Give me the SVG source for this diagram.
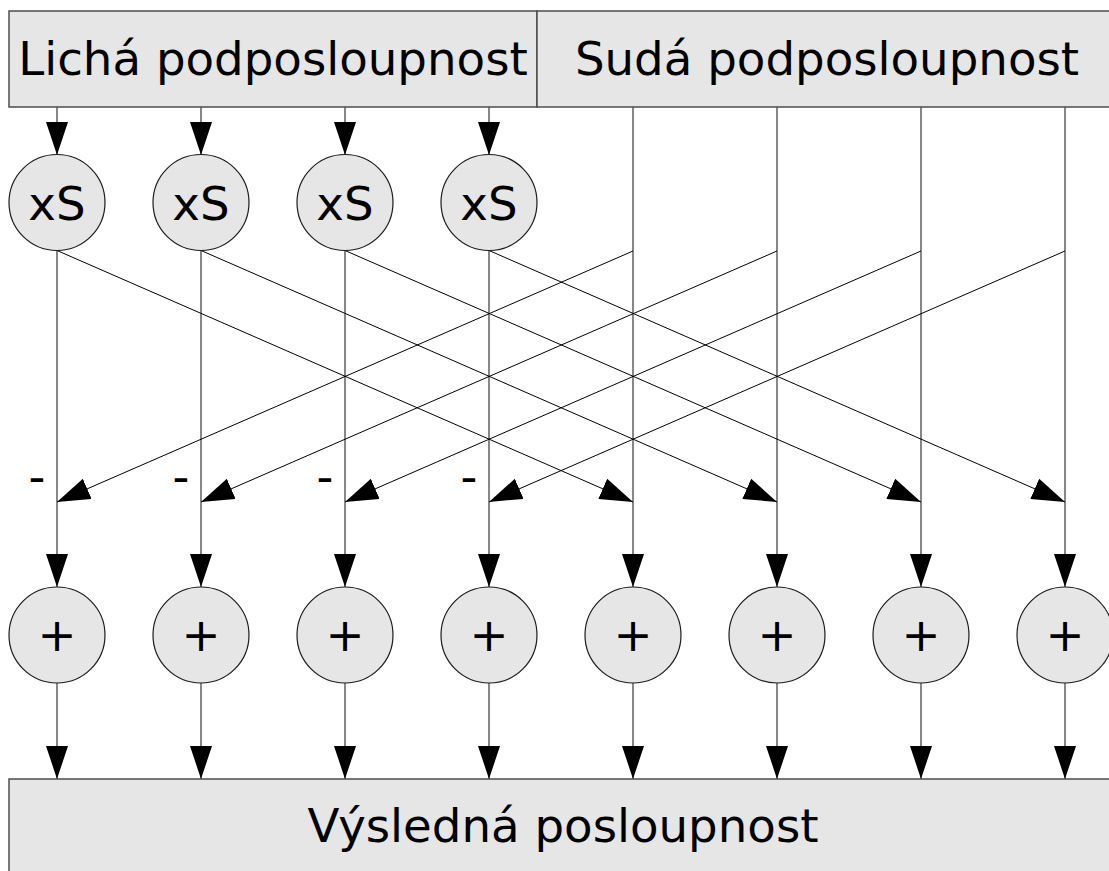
<svg xmlns="http://www.w3.org/2000/svg" width="1109" height="871" viewBox="0 0 1109 871">
<style>
.box{fill:#e6e6e6;stroke:#4d4d4d;stroke-width:1.5}
.node{fill:#e6e6e6;stroke:#1a1a1a;stroke-width:1.2}
.lbl{font-family:"DejaVu Sans",sans-serif;font-size:46.7px;fill:#000;text-anchor:middle}
.v{stroke:#555;stroke-width:1.4;fill:none}
.d{stroke:#000;stroke-width:1;fill:none}
</style>
<defs>
<marker id="ah" markerUnits="userSpaceOnUse" markerWidth="34" markerHeight="24" refX="33" refY="11" orient="auto" viewBox="0 0 34 24">
<path d="M0,0 L33,11 L0,22 Z" fill="#000"/>
</marker>
</defs>
<g id="odd-box"><rect class="box" x="9" y="11" width="528" height="96"/><text class="lbl" x="273" y="75">Lichá podposloupnost</text></g>
<g id="even-box"><rect class="box" x="537" y="11" width="580" height="96"/><text class="lbl" x="827" y="75">Sudá podposloupnost</text></g>
<g id="connectors">
<line class="v" x1="57" y1="107" x2="57" y2="155" marker-end="url(#ah)"/>
<line class="v" x1="201" y1="107" x2="201" y2="155" marker-end="url(#ah)"/>
<line class="v" x1="345" y1="107" x2="345" y2="155" marker-end="url(#ah)"/>
<line class="v" x1="489" y1="107" x2="489" y2="155" marker-end="url(#ah)"/>
<line class="v" x1="57" y1="250" x2="57" y2="587" marker-end="url(#ah)"/>
<line class="v" x1="201" y1="250" x2="201" y2="587" marker-end="url(#ah)"/>
<line class="v" x1="345" y1="250" x2="345" y2="587" marker-end="url(#ah)"/>
<line class="v" x1="489" y1="250" x2="489" y2="587" marker-end="url(#ah)"/>
<line class="v" x1="633" y1="107" x2="633" y2="587" marker-end="url(#ah)"/>
<line class="v" x1="777" y1="107" x2="777" y2="587" marker-end="url(#ah)"/>
<line class="v" x1="921" y1="107" x2="921" y2="587" marker-end="url(#ah)"/>
<line class="v" x1="1065" y1="107" x2="1065" y2="587" marker-end="url(#ah)"/>
<line class="d" x1="57" y1="250.5" x2="633" y2="502" marker-end="url(#ah)"/>
<line class="d" x1="201" y1="250.5" x2="777" y2="502" marker-end="url(#ah)"/>
<line class="d" x1="345" y1="250.5" x2="921" y2="502" marker-end="url(#ah)"/>
<line class="d" x1="489" y1="250.5" x2="1065" y2="502" marker-end="url(#ah)"/>
<line class="d" x1="633" y1="251" x2="57" y2="502" marker-end="url(#ah)"/>
<line class="d" x1="777" y1="251" x2="201" y2="502" marker-end="url(#ah)"/>
<line class="d" x1="921" y1="251" x2="345" y2="502" marker-end="url(#ah)"/>
<line class="d" x1="1065" y1="251" x2="489" y2="502" marker-end="url(#ah)"/>
<line class="v" x1="57" y1="683" x2="57" y2="779" marker-end="url(#ah)"/>
<line class="v" x1="201" y1="683" x2="201" y2="779" marker-end="url(#ah)"/>
<line class="v" x1="345" y1="683" x2="345" y2="779" marker-end="url(#ah)"/>
<line class="v" x1="489" y1="683" x2="489" y2="779" marker-end="url(#ah)"/>
<line class="v" x1="633" y1="683" x2="633" y2="779" marker-end="url(#ah)"/>
<line class="v" x1="777" y1="683" x2="777" y2="779" marker-end="url(#ah)"/>
<line class="v" x1="921" y1="683" x2="921" y2="779" marker-end="url(#ah)"/>
<line class="v" x1="1065" y1="683" x2="1065" y2="779" marker-end="url(#ah)"/>
<text class="lbl" x="37" y="493">-</text>
<text class="lbl" x="181" y="493">-</text>
<text class="lbl" x="325" y="493">-</text>
<text class="lbl" x="469" y="493">-</text>
</g>
<g id="xs1"><circle class="node" cx="57" cy="202.5" r="48"/><text class="lbl" x="57" y="220">xS</text></g>
<g id="xs2"><circle class="node" cx="201" cy="202.5" r="48"/><text class="lbl" x="201" y="220">xS</text></g>
<g id="xs3"><circle class="node" cx="345" cy="202.5" r="48"/><text class="lbl" x="345" y="220">xS</text></g>
<g id="xs4"><circle class="node" cx="489" cy="202.5" r="48"/><text class="lbl" x="489" y="220">xS</text></g>
<g id="add1"><circle class="node" cx="57" cy="635" r="48"/><text class="lbl" x="57" y="651">+</text></g>
<g id="add2"><circle class="node" cx="201" cy="635" r="48"/><text class="lbl" x="201" y="651">+</text></g>
<g id="add3"><circle class="node" cx="345" cy="635" r="48"/><text class="lbl" x="345" y="651">+</text></g>
<g id="add4"><circle class="node" cx="489" cy="635" r="48"/><text class="lbl" x="489" y="651">+</text></g>
<g id="add5"><circle class="node" cx="633" cy="635" r="48"/><text class="lbl" x="633" y="651">+</text></g>
<g id="add6"><circle class="node" cx="777" cy="635" r="48"/><text class="lbl" x="777" y="651">+</text></g>
<g id="add7"><circle class="node" cx="921" cy="635" r="48"/><text class="lbl" x="921" y="651">+</text></g>
<g id="add8"><circle class="node" cx="1065" cy="635" r="48"/><text class="lbl" x="1065" y="651">+</text></g>
<g id="result"><rect class="box" x="9" y="779" width="1108" height="100"/><text class="lbl" x="563" y="842">Výsledná posloupnost</text></g>
</svg>
